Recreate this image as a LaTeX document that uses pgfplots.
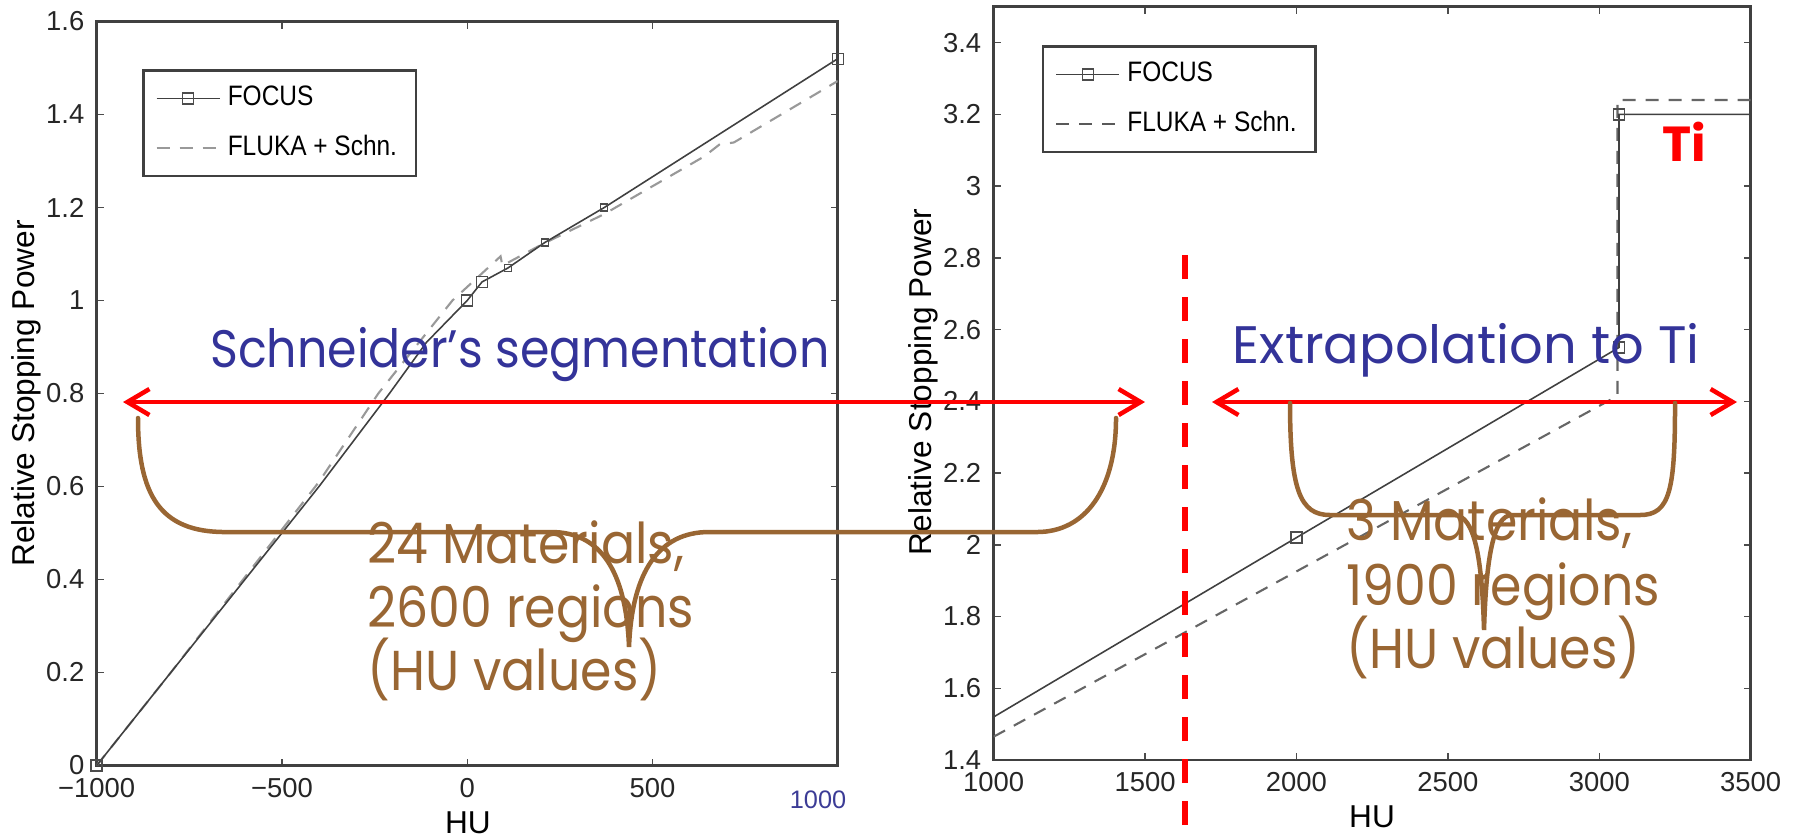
\documentclass[border=0pt]{standalone}
\usepackage{fontspec}
\setmainfont{Liberation Sans}
\newfontfamily\comic{Poppins}
\newfontfamily\comicn[FakeStretch=0.9]{Poppins}
\newfontfamily\legfont[FakeStretch=0.87]{Liberation Sans}
\usepackage{pgfplots}
\pgfplotsset{compat=1.18}
\usetikzlibrary{arrows.meta}

\definecolor{annblue}{RGB}{51,51,153}
\definecolor{annbrown}{RGB}{153,102,51}
\definecolor{tickblue}{RGB}{60,60,150}

\pgfplotsset{
  matlab/.style={
    scale only axis,
    anchor=south west,
    tick align=inside,
    major tick length=0.7mm,
    axis line style={black!75, line width=0.7pt},
    tick style={black!70, line width=0.4pt},
    ticklabel style={font=\fontsize{7.8}{9}\selectfont, text=black!85},
    label style={font=\fontsize{9}{11}\selectfont},
    scaled ticks=false,
    /pgf/number format/assume math mode=true,
    legend cell align=left,
    legend style={draw=black!75, line width=0.7pt, fill=white,
      font=\legfont\fontsize{8}{9.6}\selectfont, inner xsep=1.2mm, inner ysep=0.85mm,
      row sep=1.0mm, anchor=north west},
    legend image code/.code={
      \draw[##1,mark=none] (0mm,0mm) -- (6.3mm,0mm);
      \draw[##1,only marks] plot coordinates {(3.15mm,0mm)};},
  },
  focus/.style={black!75, solid, line width=0.45pt,
    mark size=0.55mm, mark options={solid, black!70, line width=0.4pt}},
  fluka/.style={black!40, dash pattern=on 1.3mm off 1mm, line width=0.6pt},
}

\begin{document}
\begin{tikzpicture}
\path[use as bounding box] (0,0) rectangle (179.3mm,-83.6mm);

% left panel: Schneider segmentation
\begin{axis}[matlab,
  at={(9.67mm,-76.55mm)}, width=74.1mm, height=74.4mm,
  xmin=-1000, xmax=1000, ymin=0, ymax=1.6,
  xtick={-1000,-500,0,500,1000},
  xticklabels={−1000,−500,0,500,{}},
  ytick={0,0.2,0.4,0.6,0.8,1,1.2,1.4,1.6},
  xlabel={HU}, ylabel={Relative Stopping Power},
  xlabel style={at={(axis description cs:0.501,-0.0773)}, anchor=center},
  ylabel style={at={(axis description cs:-0.0954,0.5)}, anchor=center},
  legend style={at={(axis description cs:0.0617,0.936)}},
]
\addlegendimage{focus, mark=square}
\addlegendentry{FOCUS}
\addlegendimage{fluka}
\addlegendentry{FLUKA + Schn.}
\addplot[fluka, forget plot] coordinates {
  (-1000,0) (-800,0.2) (-600,0.405) (-400,0.61) (-240,0.8) (-160,0.88)
  (-40,1.0) (90,1.095) (95,1.075) (200,1.12) (370,1.186) (640,1.31)
  (680,1.335) (720,1.34) (1000,1.472)};
\addplot[focus, forget plot] coordinates {
  (-1000,0) (-800,0.2) (-600,0.4) (-400,0.6) (-210,0.8) (-110,0.91)
  (0,1.0) (40,1.04) (110,1.07) (210,1.125) (370,1.2) (1000,1.52)};
\addplot[focus, only marks, mark=square, forget plot] coordinates {
  (-1000,0) (0,1.0) (40,1.04) (1000,1.52)};
\addplot[focus, only marks, mark=square, mark size=0.35mm, black!50, forget plot] coordinates {
  (110,1.07) (210,1.125) (370,1.2)};
\end{axis}

% right panel: extrapolation to Ti
\begin{axis}[matlab,
  at={(99.36mm,-76.0mm)}, width=75.71mm, height=75.33mm,
  xmin=1000, xmax=3500, ymin=1.4, ymax=3.5,
  xtick={1000,1500,2000,2500,3000,3500},
  xticklabels={1000,1500,2000,2500,3000,3500},
  ytick={1.4,1.6,1.8,2,2.2,2.4,2.6,2.8,3,3.2,3.4},
  xlabel={HU}, ylabel={Relative Stopping Power},
  xlabel style={at={(axis description cs:0.4998,-0.0757)}, anchor=center},
  ylabel style={at={(axis description cs:-0.0923,0.502)}, anchor=center},
  legend style={at={(axis description cs:0.0639,0.949)}},
]
\addlegendimage{focus, mark=square}
\addlegendentry{FOCUS}
\addlegendimage{fluka, black!65}
\addlegendentry{FLUKA + Schn.}
\addplot[fluka, black!60, forget plot] coordinates {
  (1000,1.465) (1500,1.695) (3060,2.415) (3060,3.24) (3500,3.24)};
\addplot[focus, forget plot] coordinates {
  (1000,1.52) (2000,2.02) (3065,2.55) (3065,3.2) (3500,3.2)};
\addplot[focus, only marks, mark=square, forget plot] coordinates {
  (2000,2.02) (3065,2.55) (3065,3.2)};
\end{axis}

% slide annotations, in pixel units of the reference (origin top left)
\begin{scope}[x=0.1mm, y=-0.1mm]
\node[tickblue, font=\fontsize{7.2}{9}\selectfont, inner sep=0] at (818,800) {1000};

\draw[red, line width=0.6mm, dash pattern=on 2.4mm off 1.8mm] (1185,825) -- (1185,255);

\draw[red, line width=0.45mm, {Straight Barb[length=2.2mm,width=2.6mm]}-{Straight Barb[length=2.2mm,width=2.6mm]}]
  (123,402) -- (1145,402);
\draw[red, line width=0.45mm, {Straight Barb[length=2.2mm,width=2.6mm]}-{Straight Barb[length=2.2mm,width=2.6mm]}]
  (1212,402) -- (1737,402);

\draw[annbrown, line width=0.45mm, line cap=round]
  (138,418) .. controls (138,495) and (160,532) .. (225,532) -- (551,532)
  .. controls (600,532) and (626,570) .. (629,647)
  .. controls (632,570) and (660,532) .. (709,532) -- (1037,532)
  .. controls (1085,532) and (1116,490) .. (1116,418);
\draw[annbrown, line width=0.45mm, line cap=round]
  (1290,403) .. controls (1290,490) and (1300,515) .. (1330,515) -- (1454,515)
  .. controls (1475,515) and (1482,560) .. (1484,630)
  .. controls (1486,560) and (1493,515) .. (1512,515) -- (1640,515)
  .. controls (1670,515) and (1675,490) .. (1675,403);

\tikzset{blu/.style={annblue, font=\comic\fontsize{15}{18}\selectfont, anchor=base west, inner sep=0},
         brn/.style={annbrown, font=\comicn\fontsize{16}{18}\selectfont, anchor=base west, inner sep=0}}
\node[blu, font=\comicn\fontsize{15}{18}\selectfont] at (209.5,367) {Schneider’s segmentation};
\node[blu] at (1232,363) {Extrapolation to Ti};

\node[brn] at (367,563) {24 Materials,};
\node[brn] at (367,627) {2600 regions};
\node[brn] at (367,690) {(HU values)};
\node[brn] at (1346,540) {3 Materials,};
\node[brn] at (1346,605) {1900 regions};
\node[brn] at (1346,668) {(HU values)};

\node[red, font=\comic\bfseries\fontsize{14}{16}\selectfont, inner sep=0] at (1684,142) {Ti};
\end{scope}
\end{tikzpicture}
\end{document}
